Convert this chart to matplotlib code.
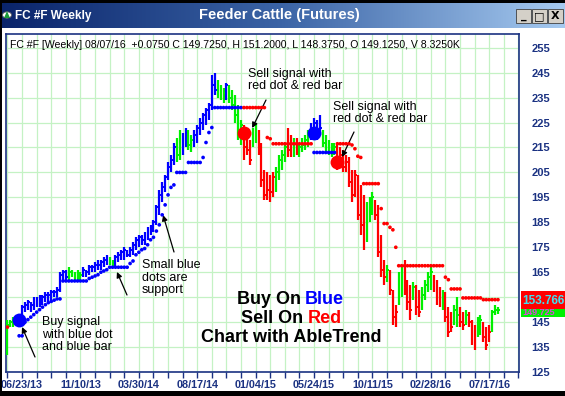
import matplotlib
matplotlib.use('Agg')
import matplotlib.pyplot as plt
import numpy as np
from matplotlib.patches import Rectangle
from matplotlib.colors import LinearSegmentedColormap
from matplotlib.ticker import FuncFormatter

plt.rcParams['font.family'] = ['Liberation Sans', 'DejaVu Sans']

nan = np.nan

# weekly bars, week 0 = 06/23/13
weeks = list(range(-5, 164))

lows = [132, 143, 143, 144, 144, 148, 149, 150, 149, 150,
        151, 151, 152, 153, 153, 154, 155, 155, 157, 161,
        162, 162, 163, 162, 162, 162, 163, 163, 164, 165,
        165, 166, 166, 167, 168, 168, 167, 167, 169, 170,
        170, 171, 171, 172, 174, 175, 176, 176, 178, 180,
        181, 184, 188, 193, 197, 202, 205, 208, 209, 210,
        212, 215, 214, 213, 215, 217, 220, 222, 224, 226,
        230, 236, 235, 234, 233, 234, 233, 230, 225, 218,
        216, 210, 212, 208, 215, 217, 212, 199, 194, 194,
        193, 195, 197, 202, 206, 209, 211, 211, 211, 212,
        211, 213, 214, 215, 218, 219, 218, 220, 215, 213,
        212, 211, 212, 206, 207, 205, 205, 199, 193, 195,
        186, 180, 174, 177, 185, 188, 186, 171, 163, 160,
        161, 156, 144, 143, 152, 155, 156, 150, 146, 154,
        148, 147, 150, 154, 157, 158, 157, 152, 151, 150,
        145, 139, 141, 144, 143, 143, 142, 144, 143, 136,
        134, 139, 140, 137, 134, 137, 141, 148, 148.375]

highs = [146, 146, 147, 147, 148, 152, 153, 154, 153, 155,
         155, 156, 156, 157, 157, 158, 158, 159, 165, 166,
         166, 167, 166, 165, 166, 165, 167, 166, 168, 168,
         169, 170, 170, 171, 172, 171, 170, 172, 173, 174,
         175, 174, 175, 177, 179, 180, 180, 181, 183, 184,
         186, 192, 198, 201, 204, 209, 212, 217, 219, 222,
         221, 223, 222, 220, 222, 224, 227, 229, 231, 233,
         244, 245, 242, 240, 239, 241, 240, 238, 236, 232,
         226, 224, 219, 218, 223, 225, 222, 217, 206, 205,
         204, 205, 207, 212, 214, 217, 223, 220, 219, 219,
         217, 219, 220, 222, 225, 227, 226, 228, 222, 220,
         218, 217, 217, 216, 215, 214, 212, 211, 206, 206,
         204, 200, 196, 193, 195, 197, 194, 192, 180, 170,
         168, 166, 158, 152, 165, 168, 170, 162, 160, 161,
         160, 158, 159, 162, 165, 167, 164, 162, 159, 158,
         157, 151, 149, 152, 155, 151, 149, 150, 149, 146,
         144, 147, 148, 145, 143, 144, 150, 152, 151.2]

closes = [144, 145, 145, 146, 147, 151, 152, 153, 152, 154,
          153, 155, 155, 156, 156, 157, 157, 158, 164, 165,
          163, 165, 164, 163, 165, 164, 166, 165, 167, 167,
          168, 168, 169, 170, 171, 169, 168, 171, 172, 173,
          174, 172, 174, 176, 178, 179, 178, 180, 182, 183,
          185, 191, 196, 199, 203, 207, 210, 215, 212, 214,
          218, 221, 216, 218, 220, 223, 225, 228, 230, 232,
          240, 238, 237, 236, 237, 240, 235, 232, 228, 222,
          224, 215, 214, 210, 221, 219, 213, 202, 196, 198,
          197, 203, 205, 210, 212, 215, 214, 213, 217, 213,
          215, 216, 218, 220, 222, 225, 220, 223, 217, 215,
          214, 213, 215, 208, 212, 207, 209, 201, 196, 204,
          188, 184, 177, 190, 192, 195, 188, 173, 166, 163,
          166, 158, 147, 149, 163, 165, 158, 153, 150, 159,
          151, 149, 156, 160, 163, 165, 159, 155, 153, 156,
          147, 141, 143, 150, 148, 145, 144, 148, 145, 138,
          136, 145, 146, 139, 136, 141, 149, 150, 149.725]

bar_colors = list('ggggbbbbbb' 'bbbbbbbbbb' 'bgggggbbbb' 'bbbbbggbbb'
                  'bbbbbbbbbb' 'bbbbbbbbgg' 'bbggbbbbbb' 'bbgggbgggg'
                  'grrrggrrrr' 'rrggggrrgr' 'ggggbbbbgg' 'gggrrrrrrr'
                  'rrrgggrrrr' 'grrrggrrrg' 'rrggggrrrg' 'rrrggrrgrr'
                  'rggrrrggg')

trend_dots = ([143, nan, nan, nan, 139.5, 139.5, 145, 146, 147, 148]
              + [149, 150, 151, 152, 152.8, 153.3, 153.8, 154.3, 154.3, 161.5]
              + [161.5] * 8 + [162.5, 163]
              + [163.5, 164, 165, 165.5, 166] + [167] * 5
              + [167, 167, 168.5, 169.5, 172, 173, 174, 174.5, 176, 178]
              + [179, 181.5, 184, 188, 192, 196, 199, 200, 205, 205]
              + [205, 205] + [209] * 5 + [211, 217, 221]
              + [223] + [231] * 9
              + [231] * 9 + [219]
              + [218.5] + [216.5] * 9
              + [216.5] * 5 + [213] * 5
              + [213] * 3 + [216.5] * 5 + [216, 214.5]
              + [211.5, 211] + [200.5] * 6 + [190.5, 184.5]
              + [184.5, 183, 182, 175] + [167.6] * 6
              + [167.6] * 10
              + [163, 162] + [158.3] * 4 + [154.7] * 4
              + [154.7] * 3 + [154] * 6)

dot_colors = list('r...' + 'b' * 77 + 'r' * 24 + 'b' * 8 + 'r' * 56)

buy_weeks = [-1, 100]
buy_prices = [146, 221]
sell_weeks = [76, 108]
sell_prices = [221, 209.2]

date_labels = ['06/23/13', '11/10/13', '03/30/14', '08/17/14', '01/04/15',
               '05/24/15', '10/11/15', '02/28/16', '07/17/16']
price_ticks = list(range(125, 256, 10))
hidden_tick = 155  # covered by the last-value box
last_dot = '153.766'
last_close = '149.725'

header = ('FC #F [Weekly] 08/07/16  +0.0750 C 149.7250, H 151.2000, '
          'L 148.3750, O 149.1250, V 8.3250K')

palette = {'b': '#0000ff', 'g': '#00f000', 'r': '#ff0000'}
navy = '#1b3282'

W, H = 565, 396


def fx(px):
    return px / W


def fy(py):
    return 1 - py / H


def box(x0, y0, x1, y1, color, z=5):
    r = Rectangle((fx(x0), fy(y1)), (x1 - x0) / W, (y1 - y0) / H,
                  transform=fig.transFigure, facecolor=color, edgecolor='none', zorder=z)
    fig.add_artist(r)
    return r


fig = plt.figure(figsize=(W / 100, H / 100), dpi=100)
fig.patch.set_facecolor('white')

# window title bar
tb = fig.add_axes([0, fy(28), 1, 25 / H])
cmap = LinearSegmentedColormap.from_list('tb', ['#0a246a', '#3b64a6', '#a6caf0'])
tb.imshow(np.linspace(0, 1, 256).reshape(1, -1), aspect='auto', cmap=cmap, extent=[0, 1, 0, 1])
tb.axis('off')
box(0, 0, 565, 3, 'black')
box(0, 0, 2, 396, 'black')
box(0, 391, 565, 396, 'black')
fig.text(fx(15), fy(15.5), 'FC #F Weekly', color='white', fontsize=8.5, fontweight='bold', va='center')
fig.text(fx(279), fy(15.5), 'Feeder Cattle (Futures)', color='white', fontsize=10.5,
         fontweight='bold', va='center', ha='center')
fig.add_artist(plt.Circle((fx(7), fy(15)), 4.5 / W, transform=fig.transFigure,
                          facecolor='white', edgecolor='#606060', lw=0.6))
fig.add_artist(plt.Polygon([(fx(4), fy(18)), (fx(10), fy(18)), (fx(7), fy(11))],
                           transform=fig.transFigure, facecolor='#1a9a3a'))
for bx, glyph in zip([516, 532, 548], ['_', '□', 'X']):
    b = Rectangle((fx(bx), fy(23)), 15 / W, 14 / H, transform=fig.transFigure,
                  facecolor='#d4d0c8', edgecolor='#404040', lw=0.6)
    fig.add_artist(b)
    fig.text(fx(bx + 7.5), fy(16), glyph, fontsize=8, fontweight='bold', ha='center',
             va='center', family=['DejaVu Sans'])

# chart
ax = fig.add_axes([fx(6), fy(372), (519 - 6) / W, (372 - 34) / H])
ax.set_xlim(-5.5, 170.2)
ax.set_ylim(125, 260.5)
ax.set_axisbelow(True)
ax.grid(True, color='#c4f2c4', lw=0.9)

cols = [palette[c] for c in bar_colors]
wk = np.array(weeks)
ax.vlines(wk, lows, highs, colors=cols, lw=1.6, zorder=3)
ax.hlines(closes, wk, wk + 0.6, colors=cols, lw=1.4, zorder=3)

dw = [w for w, c in zip(weeks, dot_colors) if c != '.']
dv = [v for v, c in zip(trend_dots, dot_colors) if c != '.']
dc = [palette[c] for c in dot_colors if c != '.']
ax.scatter(dw, dv, c=dc, s=7, linewidths=0, zorder=4)

ax.scatter(buy_weeks, buy_prices, s=100, c='#0000ff', linewidths=0, zorder=5)
ax.scatter(sell_weeks, sell_prices, s=100, c='#ff0000', linewidths=0, zorder=5)

ax.set_xticks(range(-5, 171, 5))
ax.xaxis.set_major_formatter(FuncFormatter(
    lambda w, p: date_labels[int(w) // 20] if int(w) % 20 == 0 and 0 <= w <= 160 else ''))
ax.tick_params(axis='x', length=4, width=1, color=navy, pad=2, labelsize=7.8, labelcolor=navy)
ax.yaxis.tick_right()
ax.set_yticks(price_ticks)
ax.set_yticklabels(['' if p == hidden_tick else str(p) for p in price_ticks])
ax.tick_params(axis='y', length=0, pad=9, labelsize=8, labelcolor=navy)
for lbl in ax.get_xticklabels() + ax.get_yticklabels():
    lbl.set_fontweight('bold')
for s in ax.spines.values():
    s.set_color(navy)
    s.set_linewidth(1.2)

fig.text(fx(10), fy(45.5), header, fontsize=7.6, va='center')

# annotations
arrow = dict(arrowstyle='-|>', color='black', lw=0.9, mutation_scale=8, shrinkA=0, shrinkB=0)
notes = [('Sell signal with\nred dot & red bar', 248, 68, 0.95, (266, 100), (78.8, 222.8)),
         ('Sell signal with\nred dot & red bar', 333, 101, 0.95, (354, 132), (109.6, 211.2)),
         ('Small blue\ndots are\nsupport', 142, 259, 1.08, (174, 252), (48.3, 187.9)),
         ('Buy signal\nwith blue dot\nand blue bar', 42, 316, 1.08, (35, 357), (0, 143))]
for txt, x, y, ls, tail, tip in notes:
    fig.text(fx(x), fy(y), txt, fontsize=9, va='top', ha='left', linespacing=ls)
    ax.annotate('', xy=tip, xycoords='data', xytext=(fx(tail[0]), fy(tail[1])),
                textcoords='figure fraction', arrowprops=arrow)
ax.annotate('', xy=(32.5, 165.1), xycoords='data', xytext=(fx(127), fy(295)),
            textcoords='figure fraction', arrowprops=arrow)

big = dict(fontsize=13, fontweight='bold', va='baseline')
fig.text(fx(237), fy(304), 'Buy On', color='black', ha='left', **big)
fig.text(fx(344), fy(304), 'Blue', color='#0000ff', ha='right', **big)
fig.text(fx(241), fy(323), 'Sell On', color='black', ha='left', **big)
fig.text(fx(342), fy(323), 'Red', color='#ff0000', ha='right', **big)
fig.text(fx(291), fy(342), 'Chart with AbleTrend', color='black', ha='center', **big)

# last value boxes
box(521, 291, 565, 309, '#ff0000')
g = box(521, 309, 565, 317, '#00f000')
fig.text(fx(522), fy(300.5), last_dot, color='#40e0f0', fontsize=8.5, fontweight='bold', va='center', zorder=6)
t = fig.text(fx(522), fy(312.5), last_close, color='#e040e0', fontsize=6.5, fontweight='bold', va='center', zorder=6)
t.set_clip_path(g)

fig.savefig('out.png', dpi=100)
